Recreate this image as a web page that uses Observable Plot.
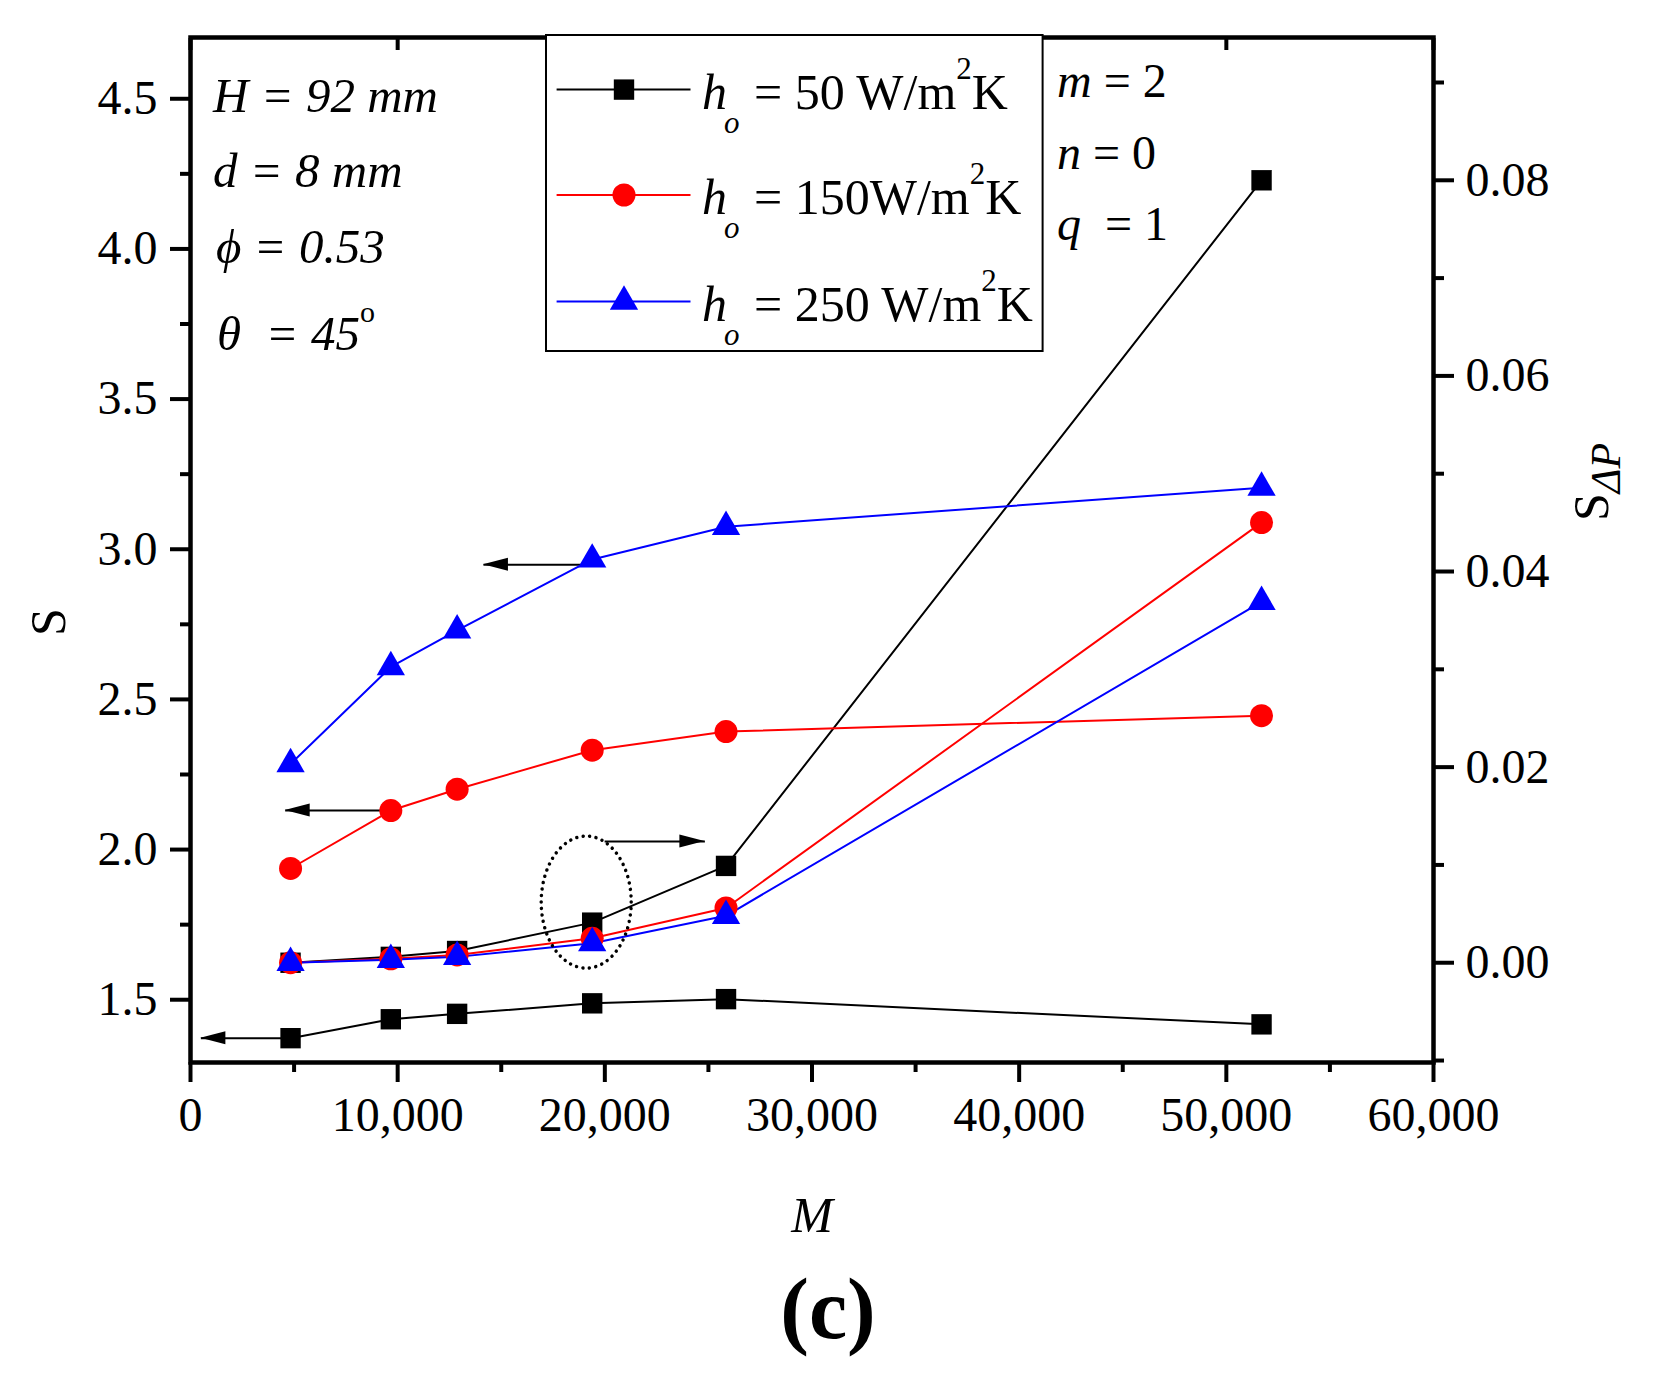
<!DOCTYPE html>
<html><head><meta charset="utf-8">
<script src="https://cdn.jsdelivr.net/npm/d3@7"></script>
<script src="https://cdn.jsdelivr.net/npm/@observablehq/plot@0.6"></script>
<style>
body{margin:0;background:#fff;}
#chart svg{display:block;}
</style></head><body><div id="chart"></div>
<script>
// ---- data ----
const M = [4830, 9670, 12870, 19390, 25850, 51700];
const S_50  = [1.372, 1.435, 1.453, 1.488, 1.502, 1.418];
const S_150 = [1.937, 2.130, 2.201, 2.331, 2.393, 2.446];
const S_250 = [2.285, 2.608, 2.730, 2.966, 3.075, 3.205];
const dP_50  = [0.0000, 0.0006, 0.0012, 0.0041, 0.0099, 0.0800];
const dP_150 = [0.0000, 0.0004, 0.0008, 0.0025, 0.0056, 0.0450];
const dP_250 = [0.0000, 0.0003, 0.0006, 0.0020, 0.0048, 0.0369];

const seriesS = [S_50, S_150, S_250];
const seriesDP = [dP_50, dP_150, dP_250];
const colors = ["#000000", "#ff0000", "#0000ff"];
const symbols = ["square", "circle", "triangle"];
const legendMain = ["= 50 W/m", "= 150W/m", "= 250 W/m"];

const sTicks = [1.5, 2.0, 2.5, 3.0, 3.5, 4.0, 4.5];
const sMinor = [1.75, 2.25, 2.75, 3.25, 3.75, 4.25];
const dpTicks = [0, 0.02, 0.04, 0.06, 0.08];
const dpMinor = [-0.01, 0.01, 0.03, 0.05, 0.07, 0.09];
const mTicks = [0, 10000, 20000, 30000, 40000, 50000, 60000];
const mMinor = [5000, 15000, 25000, 35000, 45000, 55000];

const sDomain = [1.291, 4.704];
const dpDomain = [-0.0102, 0.0946];
const mDomain = [0, 60000];

// annotations (data units)
const arrowsS = [
  {x1: 4830, x2: 500, y: 1.372},
  {x1: 9670, x2: 4570, y: 2.130},
  {x1: 19330, x2: 14140, y: 2.948}
];
const arrowsDP = [{x1: 19990, x2: 24830, y: 0.0124}];
const ellipseDP = {x: 19125, y: 0.00615};

// ---- build ----
const toS = d3.scaleLinear().domain(dpDomain).range(sDomain);
const rowsS = [], rowsDP = [];
seriesS.forEach((arr, i) => arr.forEach((v, j) => rowsS.push({series: i, M: M[j], S: v})));
seriesDP.forEach((arr, i) => arr.forEach((v, j) => rowsDP.push({series: i, M: M[j], dp: v, S: toS(v)})));
const sym = {square: 11.5, circle: 11.5, triangle: 10.5};

const marks = [
  Plot.axisX({anchor: "bottom", ticks: mTicks, tickSize: 20, tickPadding: 14, strokeWidth: 4, tickFormat: d3.format(","), label: null}),
  Plot.axisX({anchor: "bottom", ticks: mMinor, tickSize: 10, strokeWidth: 4, tickFormat: () => "", label: null}),
  Plot.axisX({anchor: "top", ticks: mTicks, tickSize: 12, dy: 12, strokeWidth: 4, tickFormat: () => "", label: null}),
  Plot.axisY({anchor: "left", ticks: sTicks, tickSize: 20, tickPadding: 13, strokeWidth: 4, tickFormat: d3.format(".1f"), label: null}),
  Plot.axisY({anchor: "left", ticks: sMinor, tickSize: 10, strokeWidth: 4, tickFormat: () => "", label: null}),
  Plot.axisY({anchor: "right", ticks: dpTicks.map(d => toS(d)), tickSize: 20, tickPadding: 12, strokeWidth: 4,
    tickFormat: d => (Math.round(toS.invert(d) * 100) / 100).toFixed(2), label: null}),
  Plot.axisY({anchor: "right", ticks: dpMinor.map(d => toS(d)), tickSize: 10, strokeWidth: 4, tickFormat: () => "", label: null}),
  Plot.link(arrowsS, {x1: "x1", x2: "x2", y1: "y", y2: "y", stroke: "#000", strokeWidth: 2}),
  Plot.link(arrowsDP, {x1: "x1", x2: "x2", y1: d => toS(d.y), y2: d => toS(d.y), stroke: "#000", strokeWidth: 2})
];
for (let i = 0; i < 3; i++) {
  marks.push(Plot.line(rowsS.filter(d => d.series === i), {x: "M", y: "S", stroke: colors[i], strokeWidth: 2}));
  marks.push(Plot.line(rowsDP.filter(d => d.series === i), {x: "M", y: "S", stroke: colors[i], strokeWidth: 2}));
}
for (let i = 0; i < 3; i++) {
  const o = {x: "M", y: "S", symbol: symbols[i], fill: colors[i], r: sym[symbols[i]]};
  marks.push(Plot.dot(rowsS.filter(d => d.series === i), o));
  marks.push(Plot.dot(rowsDP.filter(d => d.series === i), o));
}
marks.push(Plot.frame({stroke: "#000", strokeWidth: 4.5}));

const plot = Plot.plot({
  width: 1653, height: 1373,
  marginTop: 37, marginRight: 220, marginBottom: 311, marginLeft: 190,
  style: {fontFamily: "'Liberation Serif', serif", fontSize: "48px", color: "#000", background: "#fff"},
  x: {domain: mDomain},
  y: {domain: sDomain},
  marks
});
document.getElementById("chart").appendChild(plot);

// ---- annotations & rich text ----
const svg = d3.select(plot);
const X = v => plot.scale("x").apply(v);
const Y = v => plot.scale("y").apply(v);
const g = svg.append("g").attr("font-family", "'Liberation Serif', serif").attr("fill", "#000").attr("text-anchor", "start");

function head(tx, ty, dir) {
  const L = 25, w = 6.5;
  g.append("path").attr("d", `M${tx},${ty}L${tx - dir * L},${ty - w}L${tx - dir * L},${ty + w}Z`).attr("fill", "#000");
}
arrowsS.forEach(a => head(X(a.x2), Y(a.y), Math.sign(a.x2 - a.x1)));
arrowsDP.forEach(a => head(X(a.x2), Y(toS(a.y)), Math.sign(a.x2 - a.x1)));
g.append("ellipse").attr("cx", X(ellipseDP.x)).attr("cy", Y(toS(ellipseDP.y))).attr("rx", 45).attr("ry", 66)
  .attr("fill", "none").attr("stroke", "#000").attr("stroke-width", 3.5)
  .attr("stroke-dasharray", "0.01 6.5").attr("stroke-linecap", "round");

// legend box
const lg = g.append("g");
lg.append("rect").attr("x", 546).attr("y", 35).attr("width", 496.6).attr("height", 316)
  .attr("fill", "#fff").attr("stroke", "#000").attr("stroke-width", 2);
const rowY = [89.6, 195, 301.5];
const symType = {square: d3.symbolSquare, circle: d3.symbolCircle, triangle: d3.symbolTriangle};
rowY.forEach((y, i) => {
  lg.append("line").attr("x1", 556.6).attr("x2", 690.5).attr("y1", y).attr("y2", y).attr("stroke", colors[i]).attr("stroke-width", 2);
  const r = sym[symbols[i]];
  lg.append("path").attr("transform", `translate(624,${y})`)
    .attr("d", d3.symbol().type(symType[symbols[i]]).size(Math.PI * r * r)()).attr("fill", colors[i]);
  const t = lg.append("text").attr("y", y + 19).attr("font-size", 50);
  t.append("tspan").attr("x", 702).attr("font-style", "italic").text("h");
  t.append("tspan").attr("x", 724).attr("dy", 24).attr("font-size", 31).attr("font-style", "italic").text("o");
  t.append("tspan").attr("x", 754).attr("dy", -24).text(legendMain[i]);
  t.append("tspan").attr("dy", -30).attr("font-size", 31).text("2");
  t.append("tspan").attr("dy", 30).text("K");
});

// left parameter block
const leftLines = [["H = 92 mm", 213, 111.7], ["d = 8 mm", 213, 186.7], ["\u03D5 = 0.53", 216, 263]];
leftLines.forEach(([s, x, y]) => g.append("text").attr("x", x).attr("y", y).attr("font-size", 49).attr("font-style", "italic").text(s));
const th = g.append("text").attr("x", 217).attr("y", 350).attr("font-size", 49).attr("font-style", "italic").attr("xml:space", "preserve");
th.append("tspan").text("\u03B8  = 45");
th.append("tspan").attr("dy", -28).attr("font-size", 30).attr("font-style", "normal").text("o");

// right parameter block
const rightLines = [["m", " = 2", 97], ["n", " = 0", 168.7], ["q", "  = 1", 240]];
rightLines.forEach(([a, b, y]) => {
  const t = g.append("text").attr("x", 1057).attr("y", y).attr("font-size", 48).attr("xml:space", "preserve");
  t.append("tspan").attr("font-style", "italic").text(a);
  t.append("tspan").text(b);
});

// axis titles
g.append("text").attr("transform", "translate(47,622) rotate(-90)").attr("text-anchor", "middle").attr("dy", "0.35em")
  .attr("font-size", 50).text("S");
const rt = g.append("text").attr("transform", "translate(1590,482) rotate(-90)").attr("text-anchor", "middle")
  .attr("dy", "0.35em").attr("font-size", 50);
rt.append("tspan").text("S");
rt.append("tspan").attr("dy", 12).attr("font-size", 42).attr("font-style", "italic").text("\u0394P");
g.append("text").attr("x", 812).attr("y", 1232).attr("text-anchor", "middle").attr("font-size", 50).attr("font-style", "italic").text("M");
g.append("text").attr("x", 828).attr("y", 1338).attr("text-anchor", "middle").attr("font-size", 86).attr("font-weight", "bold").text("(c)");
</script></body></html>
